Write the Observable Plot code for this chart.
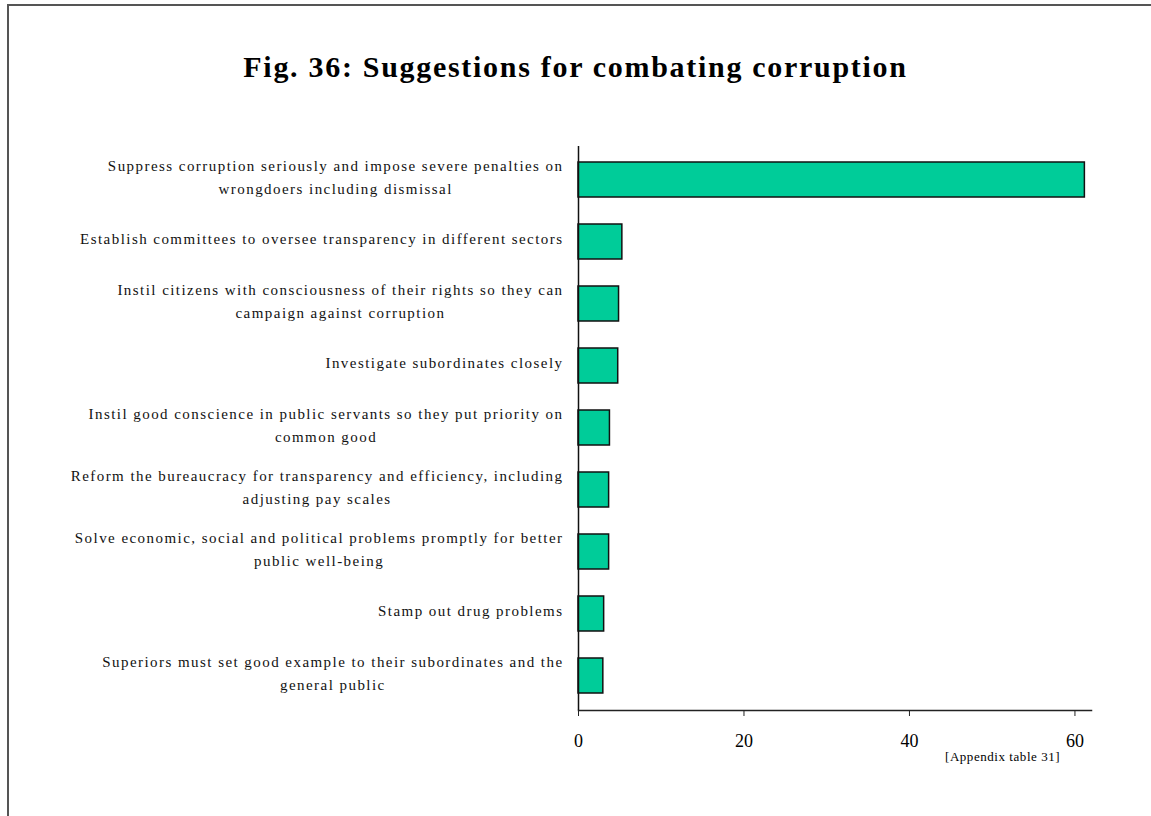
<!DOCTYPE html>
<html><head><meta charset="utf-8">
<script src="https://cdn.jsdelivr.net/npm/d3@7"></script>
<script src="https://cdn.jsdelivr.net/npm/@observablehq/plot@0.6"></script>
<style>
body{margin:0;background:#fff;}
#wrap{position:relative;width:1151px;height:816px;overflow:hidden;background:#fff;font-family:"Liberation Serif","Times New Roman",serif;}
#frame{position:absolute;left:7px;top:4px;width:1200px;height:900px;border-left:2px solid #555;border-top:2px solid #555;}
#chart{position:absolute;left:0;top:0;}
#title{position:absolute;left:0;width:1151px;top:52px;text-align:center;font-weight:bold;font-size:30px;letter-spacing:1.7px;line-height:1;color:#000;}
#caption{position:absolute;left:945px;top:750px;font-size:13px;letter-spacing:0.55px;line-height:1;color:#000;}
</style></head>
<body><div id="wrap"><div id="frame"></div><div id="chart"></div><div id="title">Fig. 36: Suggestions for combating corruption</div><div id="caption">[Appendix table 31]</div></div>
<script>
const suggestions = [
  "Suppress corruption seriously and impose severe penalties on\nwrongdoers including dismissal",
  "Establish committees to oversee transparency in different sectors",
  "Instil citizens with consciousness of their rights so they can\ncampaign against corruption",
  "Investigate subordinates closely",
  "Instil good conscience in public servants so they put priority on\ncommon good",
  "Reform the bureaucracy for transparency and efficiency, including\nadjusting pay scales",
  "Solve economic, social and political problems promptly for better\npublic well-being",
  "Stamp out drug problems",
  "Superiors must set good example to their subordinates and the\ngeneral public"
];
const percents = [61.2, 5.3, 4.9, 4.8, 3.8, 3.7, 3.7, 3.1, 3.0];
const xTicks = [0, 20, 40, 60];

const data = suggestions.map((s, i) => ({s, v: percents[i]}));

const labelFont = "15px 'Liberation Serif'";
const labelSpacing = 1.45;
const ctx = document.createElement("canvas").getContext("2d");
ctx.font = labelFont;
try { ctx.letterSpacing = labelSpacing + "px"; } catch (e) {}
function blockWidth(s) {
  return Math.max(...s.split("\n").map(l => ctx.measureText(l).width));
}

const labelMarks = data.map(d => Plot.text([d], {
  y: "s", text: "s", frameAnchor: "left", textAnchor: "middle", lineAnchor: "middle",
  dx: -15 - blockWidth(d.s) / 2, dy: -5, lineHeight: 1.55,
  fontSize: 15, fill: "#111", fontFamily: "Liberation Serif"
}));

const chart = Plot.plot({
  width: 1151, height: 816,
  marginLeft: 578, marginRight: 60, marginTop: 146, marginBottom: 106,
  style: {fontFamily: "'Liberation Serif', serif", background: "transparent", color: "#000"},
  x: {domain: [0, 62], ticks: xTicks, label: null},
  y: {domain: suggestions, paddingInner: 0.435, paddingOuter: 0.2175, label: null, axis: null},
  marks: [
    Plot.barX(data, {x: "v", y: "s", fill: "#00CC99", stroke: "#111", strokeWidth: 1.5}),
    Plot.ruleX([0], {stroke: "#111", strokeWidth: 1.5}),
    Plot.frame({anchor: "bottom", stroke: "#222", strokeWidth: 1.5}),
    Plot.axisX(xTicks, {tickSize: 6, tickPadding: 18, fontSize: 18, stroke: "#222", fill: "#000", label: null}),
    ...labelMarks
  ]
});
document.getElementById("chart").appendChild(chart);
document.querySelectorAll("#chart svg g[aria-label='text'] text").forEach(t => t.style.letterSpacing = labelSpacing + "px");
</script>
</body></html>
